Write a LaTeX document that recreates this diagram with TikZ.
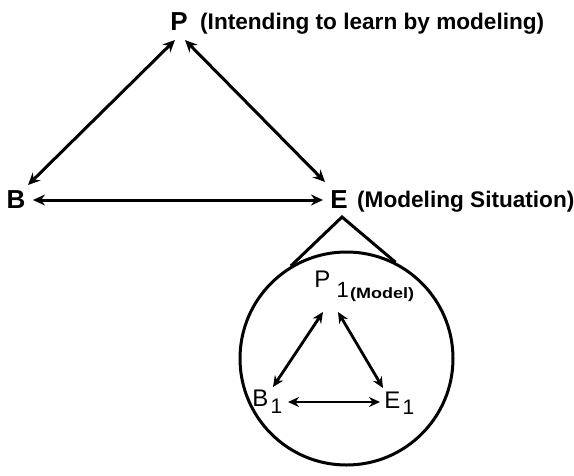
\documentclass[tikz,border=0pt]{standalone}
\usepackage{fontspec}
\setmainfont{Liberation Sans}
\usetikzlibrary{arrows.meta}
\begin{document}
\begin{tikzpicture}[x=1pt,y=-1pt,
  big/.style={font=\fontsize{26}{28}\selectfont\bfseries, inner sep=0pt},
  lbl/.style={font=\fontsize{22.6}{24}\selectfont\bfseries, inner sep=0pt, anchor=west},
  small/.style={font=\fontsize{24}{26}\selectfont, inner sep=0pt},
  conn/.style={line width=3pt, {Stealth[length=12pt,width=11pt]}-{Stealth[length=12pt,width=11pt]}},
  sconn/.style={line width=2.8pt, {Stealth[length=11pt,width=10pt]}-{Stealth[length=11pt,width=10pt]}},
  outl/.style={line width=3pt}]
\useasboundingbox (0,0) rectangle (574,475);
% outer triangle
\node[big] (P) at (179,22) {P};
\node[lbl] (Pl) at (200,24) {(Intending to learn by modeling)};
\node[big] (B) at (16,200) {B};
\node[big] (E) at (339,200) {E};
\node[lbl] (El) at (357,202) {(Modeling Situation)};
\draw[conn] ([shift={(-4,18)}]P.center) -- ([shift={(12,-15)}]B.center);
\draw[conn] ([shift={(6,18)}]P.center) -- ([shift={(-14,-18)}]E.center);
\draw[conn] ([shift={(17,0)}]B.center) -- ([shift={(-16,0)}]E.center);
% cone and circle
\node[draw, circle, outl, minimum size=213pt, inner sep=0pt] (C) at (346.5,358.5) {};
\coordinate (apex) at (342,217);
\draw[outl, line join=miter] (C.121) -- (apex) -- (C.63);
% inner triangle
\node[small] (P1) at (322.5,284.5) {P\rlap{\hspace{6pt}\raisebox{-10pt}{\fontsize{22}{24}\selectfont 1}}};
\node[font=\fontsize{15}{17}\selectfont\bfseries, inner sep=0pt, anchor=west] (Ml) at (350,295) {\scalebox{1.2}[1]{(Model)}};
\node[small] (B1) at (260.5,401.5) {B\rlap{\hspace{2pt}\raisebox{-7pt}{\fontsize{21}{23}\selectfont 1}}};
\node[small] (E1) at (392.5,403) {E\rlap{\hspace{2pt}\raisebox{-6pt}{\fontsize{21}{23}\selectfont 1}}};
\draw[sconn] ([shift={(0.5,27.5)}]P1.center) -- ([shift={(12.5,-14.5)}]B1.center);
\draw[sconn] ([shift={(15.5,27.5)}]P1.center) -- ([shift={(-9.5,-15)}]E1.center);
\draw[sconn] ([shift={(27.5,0.5)}]B1.center) -- ([shift={(-12.5,-1)}]E1.center);
\end{tikzpicture}
\end{document}
